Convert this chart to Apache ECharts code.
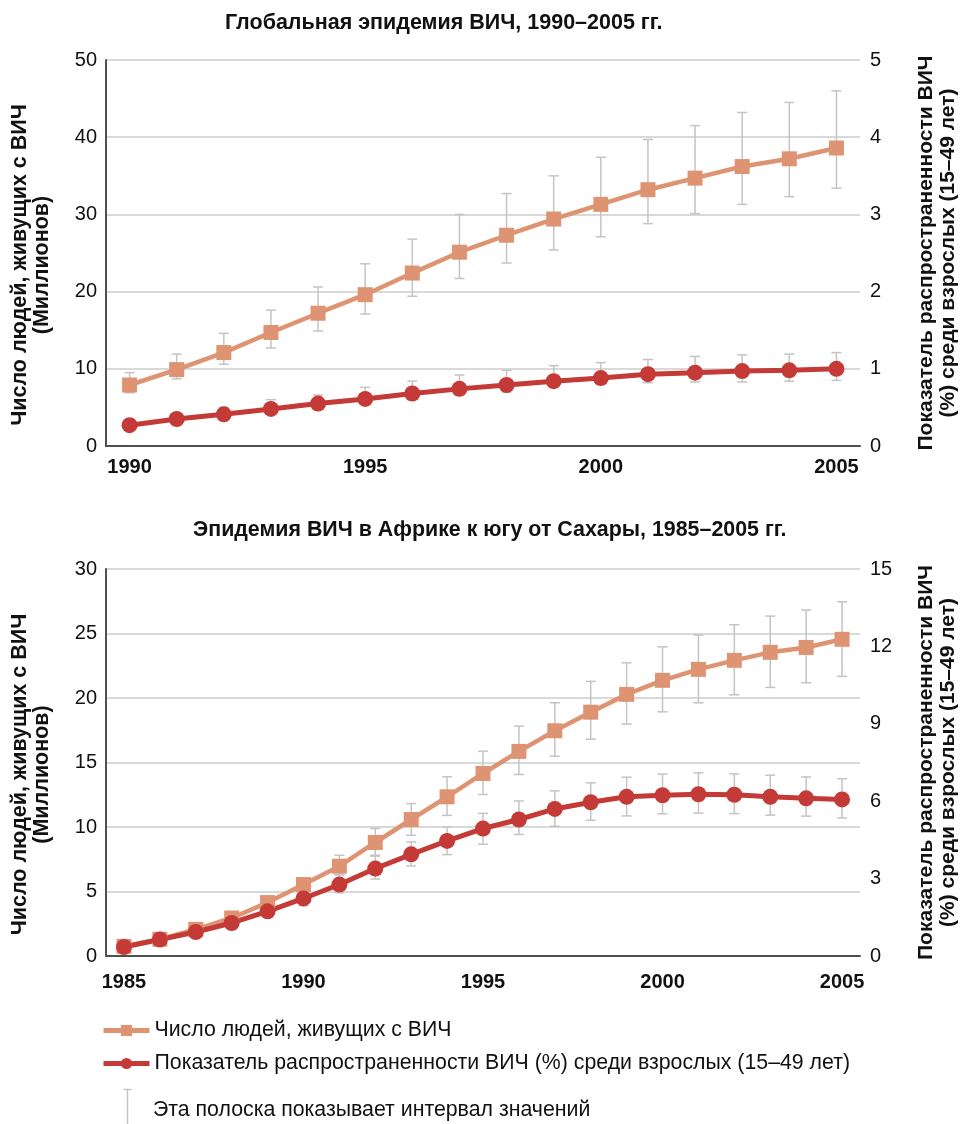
<!DOCTYPE html>
<html>
<head>
<meta charset="utf-8">
<script src="https://cdn.jsdelivr.net/npm/echarts@6/dist/echarts.min.js"></script>
<style>
html,body{margin:0;padding:0;background:#fff;}
#c{width:967px;height:1124px;}
</style>
</head>
<body>
<div id="c"></div>
<script>
// ---------- DATA ----------
const titleTop = 'Глобальная эпидемия ВИЧ, 1990–2005 гг.';
const titleBottom = 'Эпидемия ВИЧ в Африке к югу от Сахары, 1985–2005 гг.';
const nameLiving = 'Число людей, живущих с ВИЧ';
const namePrev = 'Показатель распространенности ВИЧ (%) среди взрослых (15–49 лет)';
const nameRange = 'Эта полоска показывает интервал значений';
const leftAxisName = 'Число людей, живущих с ВИЧ\n(Миллионов)';
const rightAxisName = 'Показатель распространенности ВИЧ\n(%) среди взрослых (15–49 лет)';

const yearsTop = ['1990','1991','1992','1993','1994','1995','1996','1997','1998','1999','2000','2001','2002','2003','2004','2005'];
const livingTop = [7.9, 9.9, 12.1, 14.7, 17.2, 19.6, 22.4, 25.1, 27.3, 29.4, 31.3, 33.2, 34.7, 36.2, 37.2, 38.6];
const livingTopLow = [6.9, 8.7, 10.6, 12.7, 14.9, 17.1, 19.4, 21.7, 23.7, 25.4, 27.1, 28.8, 30.1, 31.3, 32.3, 33.4];
const livingTopHigh = [9.5, 11.9, 14.6, 17.6, 20.6, 23.6, 26.8, 30.0, 32.7, 35.0, 37.4, 39.7, 41.5, 43.2, 44.5, 46.0];
const prevTop = [0.27, 0.35, 0.41, 0.48, 0.55, 0.61, 0.68, 0.74, 0.79, 0.84, 0.88, 0.93, 0.95, 0.97, 0.98, 1.00];
const prevTopLow = [0.24, 0.31, 0.36, 0.42, 0.48, 0.54, 0.60, 0.66, 0.70, 0.76, 0.80, 0.82, 0.83, 0.83, 0.84, 0.85];
const prevTopHigh = [0.31, 0.40, 0.50, 0.60, 0.66, 0.76, 0.84, 0.92, 0.98, 1.04, 1.08, 1.12, 1.16, 1.18, 1.19, 1.21];

const yearsBottom = ['1985','1986','1987','1988','1989','1990','1991','1992','1993','1994','1995','1996','1997','1998','1999','2000','2001','2002','2003','2004','2005'];
const livingBottom = [0.75, 1.3, 2.07, 2.95, 4.14, 5.54, 6.96, 8.80, 10.58, 12.34, 14.15, 15.86, 17.46, 18.9, 20.28, 21.37, 22.22, 22.92, 23.54, 23.92, 24.55];
const livingBottomLow = [0.6, 1.1, 1.8, 2.6, 3.7, 5.0, 6.3, 7.81, 9.36, 10.9, 12.52, 14.07, 15.49, 16.81, 17.98, 18.93, 19.63, 20.25, 20.82, 21.18, 21.68];
const livingBottomHigh = [0.9, 1.5, 2.35, 3.35, 4.6, 6.0, 7.81, 9.88, 11.82, 13.89, 15.88, 17.82, 19.63, 21.29, 22.73, 23.97, 24.88, 25.68, 26.35, 26.82, 27.46];
const prevBottom = [0.35, 0.64, 0.93, 1.28, 1.73, 2.23, 2.77, 3.39, 3.94, 4.46, 4.94, 5.29, 5.70, 5.96, 6.17, 6.23, 6.27, 6.25, 6.17, 6.11, 6.07];
const prevBottomLow = [0.3, 0.55, 0.8, 1.1, 1.5, 1.95, 2.45, 2.98, 3.49, 3.93, 4.33, 4.71, 5.03, 5.26, 5.43, 5.51, 5.54, 5.52, 5.46, 5.42, 5.35];
const prevBottomHigh = [0.42, 0.75, 1.08, 1.5, 2.0, 2.55, 3.15, 3.87, 4.42, 5.0, 5.53, 6.01, 6.40, 6.71, 6.93, 7.05, 7.10, 7.06, 7.01, 6.94, 6.87];

// ---------- STYLE ----------
const FONT = '"Liberation Sans", Arial, sans-serif';
const ORANGE = '#de9473';
const RED = '#c43a36';
const ERR = '#c4c4c4';
const AXIS = '#505050';
const GRIDC = '#cccccc';
const TXT = '#111';

function errData(years, lo, hi) { return years.map((y, i) => [y, lo[i], hi[i]]); }
function renderErr(params, api) {
  const x = api.value(0);
  const p1 = api.coord([x, api.value(1)]);
  const p2 = api.coord([x, api.value(2)]);
  const w = 5;
  const style = { stroke: ERR, lineWidth: 1.5 };
  return { type: 'group', children: [
    { type: 'line', shape: { x1: p1[0], y1: p1[1], x2: p2[0], y2: p2[1] }, style },
    { type: 'line', shape: { x1: p1[0] - w, y1: p1[1], x2: p1[0] + w, y2: p1[1] }, style },
    { type: 'line', shape: { x1: p2[0] - w, y1: p2[1], x2: p2[0] + w, y2: p2[1] }, style }
  ]};
}

function xAxis(gridIndex, years, margin) {
  return {
    type: 'category', gridIndex, data: years, boundaryGap: true,
    axisLine: { lineStyle: { color: AXIS, width: 2 } },
    axisTick: { interval: 0, length: 7, lineStyle: { color: AXIS, width: 1.5 } },
    axisLabel: { interval: (i, v) => Number(v) % 5 === 0, color: TXT, fontFamily: FONT, fontSize: 20, fontWeight: 'bold', margin },
    splitLine: { show: false }
  };
}
function yLeft(gridIndex, max, interval) {
  return {
    type: 'value', gridIndex, min: 0, max, interval, position: 'left',
    name: leftAxisName, nameLocation: 'middle', nameRotate: 90, nameGap: 53,
    nameTextStyle: { fontFamily: FONT, fontSize: 21.5, fontWeight: 'bold', color: TXT, lineHeight: 22, padding: [0, 24, 0, 0] },
    axisLine: { show: true, lineStyle: { color: AXIS, width: 2 } },
    axisTick: { show: false },
    axisLabel: { color: TXT, fontFamily: FONT, fontSize: 20, margin: 9 },
    splitLine: { show: true, lineStyle: { color: GRIDC, width: 1.5 } }
  };
}
function yRight(gridIndex, max, interval) {
  return {
    type: 'value', gridIndex, min: 0, max, interval, position: 'right',
    name: rightAxisName, nameLocation: 'middle', nameRotate: 90, nameGap: 55,
    nameTextStyle: { fontFamily: FONT, fontSize: 21, fontWeight: 'bold', color: TXT, lineHeight: 22 },
    axisLine: { show: false },
    axisTick: { show: false },
    axisLabel: { color: TXT, fontFamily: FONT, fontSize: 20, margin: 10 },
    splitLine: { show: false }
  };
}
function lineSeries(name, x, y, data, color, symbol, size, width) {
  return {
    type: 'line', name, xAxisIndex: x, yAxisIndex: y, data,
    symbol, symbolSize: size, showSymbol: true,
    lineStyle: { color, width }, itemStyle: { color }, z: 3, animation: false
  };
}
function errSeries(x, y, data) {
  return {
    type: 'custom', name: nameRange, xAxisIndex: x, yAxisIndex: y, data,
    encode: { x: 0, y: [1, 2] }, renderItem: renderErr,
    itemStyle: { color: ERR }, z: 1, animation: false, silent: true
  };
}
function legendItem(name, top) {
  return {
    data: [name], left: 101, top, padding: 0, itemWidth: 46, itemHeight: 14, itemGap: 5,
    lineStyle: { width: 5 },
    textStyle: { fontFamily: FONT, fontSize: 21.3, color: TXT }
  };
}

const option = {
  backgroundColor: '#fff',
  animation: false,
  title: [
    { text: titleTop, left: 225, top: 12, padding: 0, textStyle: { fontFamily: FONT, fontSize: 21.5, fontWeight: 'bold', color: TXT } },
    { text: titleBottom, left: 193, top: 520, padding: 0, textStyle: { fontFamily: FONT, fontSize: 21.4, fontWeight: 'bold', color: TXT } }
  ],
  grid: [
    { left: 106, right: 104, top: 60, height: 386 },
    { left: 106, right: 104, top: 569, height: 387 }
  ],
  xAxis: [ xAxis(0, yearsTop, 11), xAxis(1, yearsBottom, 16) ],
  yAxis: [ yLeft(0, 50, 10), yRight(0, 5, 1), yLeft(1, 30, 5), yRight(1, 15, 3) ],
  legend: [ legendItem(nameLiving, 1020), legendItem(namePrev, 1053) ],
  graphic: [
    { type: 'group', left: 121, top: 1087, children: [
      { type: 'line', shape: { x1: 4, y1: 0, x2: 4, y2: 37 }, style: { stroke: ERR, lineWidth: 1.5 } },
      { type: 'line', shape: { x1: 0, y1: 0, x2: 8, y2: 0 }, style: { stroke: ERR, lineWidth: 1.5 } }
    ]},
    { type: 'text', left: 153, top: 1100, style: { text: nameRange, fontFamily: FONT, fontSize: 21.3, fill: TXT } }
  ],
  series: [
    errSeries(0, 0, errData(yearsTop, livingTopLow, livingTopHigh)),
    errSeries(0, 1, errData(yearsTop, prevTopLow, prevTopHigh)),
    lineSeries(nameLiving, 0, 0, livingTop, ORANGE, 'rect', 15, 4.5),
    lineSeries(namePrev, 0, 1, prevTop, RED, 'circle', 16, 5),
    errSeries(1, 2, errData(yearsBottom, livingBottomLow, livingBottomHigh)),
    errSeries(1, 3, errData(yearsBottom, prevBottomLow, prevBottomHigh)),
    lineSeries(nameLiving, 1, 2, livingBottom, ORANGE, 'rect', 15, 4.5),
    lineSeries(namePrev, 1, 3, prevBottom, RED, 'circle', 16, 5)
  ]
};

const chart = echarts.init(document.getElementById('c'), null, { renderer: 'canvas' });
chart.setOption(option);
</script>
</body>
</html>
